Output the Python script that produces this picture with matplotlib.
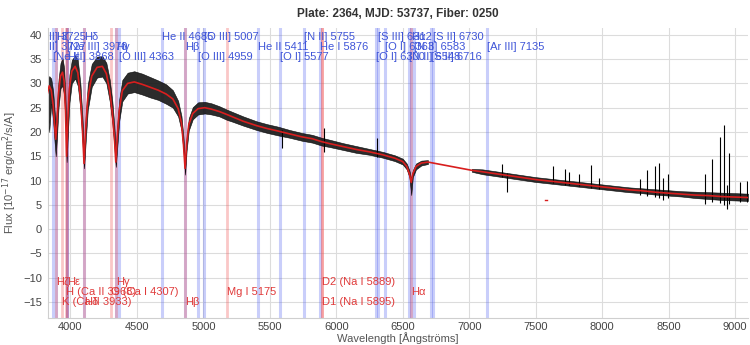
import matplotlib
matplotlib.use("Agg")
import matplotlib.pyplot as plt

plt.rcParams['font.family'] = ['Liberation Sans', 'DejaVu Sans']

title = "Plate: 2364, MJD: 53737, Fiber: 0250"
xlabel = "Wavelength [Ångströms]"
ylabel = "Flux [10$^{-17}$ erg/cm$^2$/s/A]"

wl = [3827, 3840, 3855, 3870, 3880, 3889, 3898, 3910, 3925, 3940,
      3952, 3962, 3971, 3980, 3992, 4010, 4035, 4055, 4075, 4090,
      4102, 4114, 4130, 4160, 4200, 4240, 4270, 4295, 4315, 4330,
      4341, 4352, 4367, 4390, 4430, 4480, 4540, 4600, 4660, 4720,
      4770, 4810, 4835, 4850, 4862, 4874, 4890, 4920, 4960, 5010,
      5060, 5120, 5176, 5220, 5300, 5400, 5480, 5560, 5650, 5740,
      5820, 5890, 5950, 6050, 6150, 6250, 6350, 6440, 6500, 6530,
      6550, 6564, 6576, 6600, 6640, 6690, 7020, 7100, 7200, 7300,
      7400, 7500, 7600, 7700, 7800, 7900, 8000, 8100, 8200, 8300,
      8400, 8500, 8600, 8700, 8800, 8900, 9000, 9098]

model = [28.0, 29.5, 28.6, 25.5, 21.5, 18.5, 22.0, 28.0, 31.5, 32.3,
         30.5, 24.5, 15.0, 22.5, 29.0, 32.5, 33.5, 32.2, 27.0, 20.5,
         13.5, 20.5, 27.0, 31.5, 33.3, 33.5, 32.0, 28.5, 24.0, 19.0,
         13.8, 19.0, 24.5, 28.5, 30.0, 30.3, 29.8, 29.2, 28.6, 27.8,
         26.8, 24.8, 21.8, 17.5, 12.5, 17.5, 21.5, 23.8, 24.8, 25.0,
         24.7, 24.2, 23.6, 23.1, 22.2, 21.3, 20.7, 20.2, 19.6, 19.0,
         18.6, 18.0, 17.6, 17.0, 16.4, 15.9, 15.3, 14.6, 13.9, 12.9,
         11.4, 9.6, 11.4, 12.9, 13.6, 13.8, 12.1, 11.8, 11.4, 11.0,
         10.6, 10.2, 9.9, 9.6, 9.3, 9.0, 8.7, 8.4, 8.1, 7.9,
         7.6, 7.4, 7.2, 7.0, 6.9, 6.7, 6.6, 6.5]

obs_lo = [25.0, 20.0, 25.8, 22.0, 18.0, 15.0, 18.8, 25.0, 29.0, 29.5,
          27.5, 21.5, 13.8, 19.5, 26.0, 30.0, 31.0, 29.5, 24.5, 17.8,
          12.5, 17.8, 24.5, 29.3, 31.2, 31.4, 30.0, 26.3, 21.8, 16.8,
          12.8, 16.8, 22.3, 26.3, 27.9, 28.2, 27.7, 27.1, 26.6, 25.8,
          25.0, 23.2, 20.3, 16.0, 11.2, 16.2, 20.3, 22.6, 23.6, 23.8,
          23.6, 23.2, 22.5, 22.1, 21.3, 20.4, 19.8, 19.3, 18.8, 18.2,
          17.8, 17.2, 16.9, 16.3, 15.7, 15.3, 14.7, 14.0, 13.3, 12.3,
          10.7, 7.0, 10.7, 12.3, 13.1, 13.4, 11.8, 11.3, 10.9, 10.5,
          10.1, 9.7, 9.4, 9.1, 8.8, 8.5, 8.2, 7.9, 7.6, 7.4,
          7.1, 6.9, 6.7, 6.4, 6.2, 6.0, 5.9, 5.8]

obs_hi = [30.5, 31.5, 31.0, 28.3, 24.5, 21.3, 25.0, 30.8, 34.2, 35.2,
          33.2, 27.3, 16.8, 25.3, 31.8, 34.8, 35.8, 34.8, 29.8, 23.0,
          15.5, 23.0, 29.8, 34.0, 35.5, 35.6, 34.2, 30.8, 26.3, 21.3,
          16.0, 21.3, 26.8, 30.7, 32.2, 32.5, 32.0, 31.3, 30.6, 29.8,
          28.6, 26.4, 23.3, 19.0, 13.8, 18.8, 22.8, 25.1, 26.1, 26.2,
          25.9, 25.3, 24.6, 24.1, 23.2, 22.2, 21.6, 21.1, 20.4, 19.8,
          19.4, 18.8, 18.4, 17.7, 17.1, 16.5, 15.9, 15.2, 14.5, 13.5,
          12.1, 10.3, 12.1, 13.5, 14.1, 14.2, 12.4, 12.3, 11.9, 11.5,
          11.1, 10.7, 10.4, 10.1, 9.8, 9.5, 9.2, 8.9, 8.6, 8.4,
          8.2, 8.0, 7.8, 7.7, 7.6, 7.5, 7.4, 7.3]

spike_wl = [5592, 5905, 6306, 7246, 7284, 7634, 7722, 7754, 7830, 7915,
            7980, 8286, 8341, 8399, 8429, 8461, 8499, 8775, 8825, 8887,
            8917, 8940, 8957, 9038, 9088]
spike_lo = [16.7, 15.9, 14.8, 10.8, 7.6, 9.4, 9.0, 9.0, 8.8, 8.5,
            8.2, 7.0, 6.8, 6.7, 6.5, 6.0, 6.4, 5.2, 5.5, 5.4,
            5.0, 4.1, 5.2, 5.5, 5.5]
spike_hi = [20.5, 20.8, 18.7, 13.5, 11.6, 12.9, 12.4, 11.7, 11.4, 13.1,
            10.6, 10.4, 12.1, 12.9, 13.6, 10.6, 11.3, 11.3, 14.4, 19.0,
            21.5, 9.0, 15.7, 9.6, 10.0]

stray_wl = [7568, 7588]
stray_flux = [6.0, 6.0]

emis_names = ["[O II] 3725", "[O II] 3727", "[Ne III] 3868", "H\u03b6", "[Ne III] 3970",
              "H\u03b5", "H\u03b4", "H\u03b3", "[O III] 4363", "He II 4685",
              "H\u03b2", "[O III] 4959", "[O III] 5007", "He II 5411", "[O I] 5577",
              "[N II] 5755", "He I 5876", "[O I] 6300", "[S III] 6312", "[O I] 6363",
              "[N II] 6548", "H\u03b1", "[N II] 6583", "[S II] 6716", "[S II] 6730",
              "[Ar III] 7135"]
emis_wl = [3725, 3727, 3868, 3889, 3970, 3971, 4101, 4340, 4363, 4686,
           4861, 4959, 5007, 5411, 5577, 5755, 5876, 6300, 6312, 6363,
           6548, 6563, 6583, 6716, 6730, 7135]

abs_names = ["H\u03b6", "K (Ca II 3933)", "H (Ca II 3968)", "H\u03b5", "H\u03b4",
             "G (Ca I 4307)", "H\u03b3", "H\u03b2", "Mg I 5175", "D2 (Na I 5889)",
             "D1 (Na I 5895)", "H\u03b1"]
abs_wl = [3889, 3933, 3968, 3971, 4101, 4307, 4340, 4861, 5175, 5889, 5895, 6563]

emis_rows_y = [39.6, 37.5, 35.4]
abs_rows_y = [-10.9, -15.0, -12.9]

xticks = [4000, 4500, 5000, 5500, 6000, 6500, 7000, 7500, 8000, 8500, 9000]
yticks = [-15, -10, -5, 0, 5, 10, 15, 20, 25, 30, 35, 40]

fig = plt.figure(figsize=(7.5, 3.45), dpi=100)
ax = fig.add_axes([47.5 / 750, 1 - 318 / 345, 700.5 / 750, 290 / 345])
ax.set_xlim(3827, 9098)
ax.set_ylim(-18.3, 41.4)

ax.set_xticks(xticks)
ax.set_yticks(yticks)
ax.grid(True, color='#dcdcdc', linewidth=0.8, zorder=0)
ax.set_axisbelow(True)
ax.tick_params(length=0, labelsize=8, labelcolor='#444444')
ax.tick_params(axis='x', pad=3)
ax.tick_params(axis='y', pad=4)
for s in ['top', 'right']:
    ax.spines[s].set_visible(False)
for s in ['left', 'bottom']:
    ax.spines[s].set_color('#cfcfcf')

for w in emis_wl:
    ax.axvline(w, color='#4f5ff0', alpha=0.3, linewidth=2.2, zorder=1)
for w in abs_wl:
    ax.axvline(w, color='#f04848', alpha=0.3, linewidth=2.0, zorder=1)

gap = wl.index(6690)
for sl in (slice(0, gap + 1), slice(gap + 1, None)):
    ax.fill_between(wl[sl], obs_lo[sl], obs_hi[sl], facecolor='#1a1a1a',
                    edgecolor='black', alpha=0.92, linewidth=0.4, zorder=2)
ax.vlines(spike_wl, spike_lo, spike_hi, color='black', linewidth=0.8, zorder=2)
ax.plot(wl, model, color='#d81e1e', linewidth=1.2, zorder=3)
ax.plot(stray_wl, stray_flux, color='#d81e1e', linewidth=1.0, zorder=3)

for i, (n, w) in enumerate(zip(emis_names, emis_wl)):
    ax.text(w, emis_rows_y[i % 3], n, color='#3f55d8', fontsize=8, ha='left',
            va='center', clip_on=True, zorder=4)
for i, (n, w) in enumerate(zip(abs_names, abs_wl)):
    ax.text(w, abs_rows_y[i % 3], n, color='#e03a3a', fontsize=8, ha='left',
            va='center', clip_on=True, zorder=4)

ax.set_title(title, fontsize=8.5, fontweight='bold', color='#333333', pad=8)
ax.set_xlabel(xlabel, fontsize=8, color='#555555', labelpad=0)
ax.set_ylabel(ylabel, fontsize=8, color='#555555', labelpad=3)

fig.savefig("out.png", dpi=100)
